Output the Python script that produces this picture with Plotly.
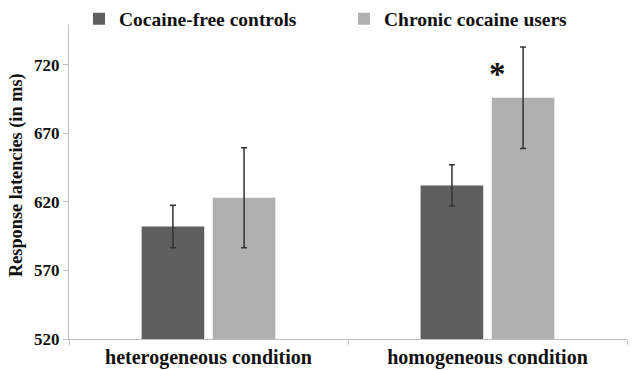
import plotly.graph_objects as go

conditions = ["heterogeneous condition", "homogeneous condition"]
controls_mean = [602, 632]
controls_err = [15.5, 15]
users_mean = [623, 696]
users_err = [36.5, 37]
y_ticks = [520, 570, 620, 670, 720]

serif = "Liberation Serif, Times New Roman, serif"
ink = "#111111"

fig = go.Figure()
fig.add_trace(go.Bar(
    name="Cocaine-free controls", x=conditions, y=controls_mean,
    marker=dict(color="#5f5f5f", line=dict(width=0)),
    error_y=dict(type="data", array=controls_err, color="#333333", thickness=1.5, width=3),
))
fig.add_trace(go.Bar(
    name="Chronic cocaine users", x=conditions, y=users_mean,
    marker=dict(color="#b0b0b0", line=dict(width=0)),
    error_y=dict(type="data", array=users_err, color="#333333", thickness=1.5, width=3),
))

# significance marker over the homogeneous-condition pair
fig.add_annotation(x=conditions[1], y=713, xshift=10, text="<b>*</b>", showarrow=False,
                   font=dict(family=serif, size=33, color=ink), yanchor="middle")

# y-axis title, placed slightly above the plot-area centre
plot_w = 639 - 69 - 12
plot_h = 370 - 25 - 31
fig.add_annotation(xref="paper", yref="paper", x=-(69 - 16) / plot_w, y=(339 - 175) / plot_h,
                   text="<b>Response latencies (in ms)</b>", textangle=-90, showarrow=False,
                   xanchor="center", yanchor="middle",
                   font=dict(family=serif, size=18.3, color=ink))

fig.update_layout(
    width=639, height=370,
    margin=dict(l=69, r=12, t=25, b=31, autoexpand=False),
    paper_bgcolor="white", plot_bgcolor="white",
    barmode="group", bargap=0.49, bargroupgap=0.12,
    font=dict(family=serif, color=ink),
    legend=dict(orientation="h", x=(79 - 69) / plot_w, xanchor="left",
                y=1.019, yanchor="middle",
                entrywidth=220, entrywidthmode="pixels",
                bgcolor="rgba(0,0,0,0)",
                font=dict(family=serif, size=19.5, color=ink, weight="bold")),
    showlegend=True,
)
fig.update_xaxes(
    showline=True, linecolor="#c0c0c0", linewidth=1,
    ticks="outside", tickson="boundaries", ticklen=5, tickcolor="#c0c0c0",
    tickfont=dict(family=serif, size=20, color=ink, weight="bold"),
    showgrid=False, automargin=False,
)
fig.update_yaxes(
    range=[520, 749], tickvals=y_ticks,
    showline=True, linecolor="#c0c0c0", linewidth=1,
    ticks="outside", ticklen=5, tickcolor="#c0c0c0",
    tickfont=dict(family=serif, size=17, color=ink, weight="bold"),
    showgrid=False, zeroline=False, automargin=False,
)

fig.write_html("out.html")
